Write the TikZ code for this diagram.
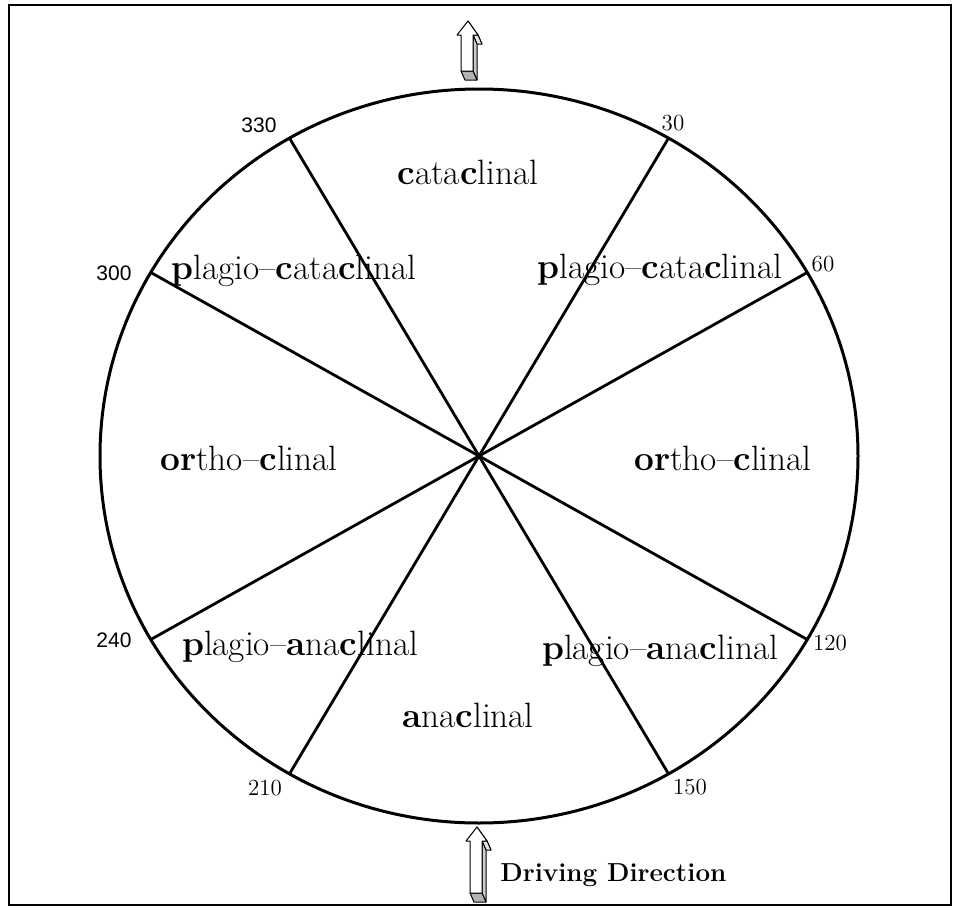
\documentclass[tikz,border=0pt]{standalone}
\usepackage{fontspec}
\newfontfamily\numsans{Liberation Sans}
\newcommand{\dirarrow}[3]{%
  \begin{scope}[shift={(#1,#2)}, line width=0.5pt, line join=round]
    \filldraw[fill=white] (0,0) -- (10,14) -- (14,23) -- (4,9) -- cycle;
    \filldraw[fill=gray!20] (5,14) -- (10,14) -- (14,23) -- (9,23) -- cycle;
    \filldraw[fill=gray!40] (5,14) -- (5,#3) -- (9,#3+9) -- (9,23) -- cycle;
    \filldraw[fill=gray!60] (-7,#3) -- (5,#3) -- (9,#3+9) -- (-3,#3+9) -- cycle;
    \filldraw[fill=white] (0,0) -- (-11,14) -- (-7,14) -- (-7,#3) -- (5,#3) -- (5,14) -- (10,14) -- cycle;
  \end{scope}}
\begin{document}
\begin{tikzpicture}[x=0.5pt, y=-0.5pt,
  rim/.style={line width=1.5pt},
  spoke/.style={line width=1.4pt},
  frameline/.style={line width=1.2pt},
  zone/.style={font=\fontsize{17.6}{20}\selectfont, inner sep=0pt, anchor=base},
  deg/.style={font=\fontsize{11.5}{13}\selectfont, inner sep=0pt},
  degsans/.style={font=\numsans\fontsize{10.5}{12}\selectfont, inner sep=0pt}]
\useasboundingbox (0,0) rectangle (954,910);
\draw[frameline] (9,5) rectangle (951,905);

\coordinate (O) at (479,456);
\foreach \a in {30,60,120,150,210,240,300,330}{
  \coordinate (p\a) at ({479+379*sin(\a)},{456-367*cos(\a)});
}
\draw[rim] (O) ellipse [x radius=379, y radius=367];
\draw[spoke] (p330) -- (p150);
\draw[spoke] (p30) -- (p210);
\draw[spoke] (p60) -- (p240);
\draw[spoke] (p300) -- (p120);

\node[zone] (cata) at (468,184) {\textbf{c}ata\textbf{c}linal};
\node[zone] (pcl) at (294,279) {\textbf{p}lagio--\textbf{c}ata\textbf{c}linal};
\node[zone] (pcr) at (660,278) {\textbf{p}lagio--\textbf{c}ata\textbf{c}linal};
\node[zone] (ol) at (249,470) {\textbf{or}tho--\textbf{c}linal};
\node[zone] (or) at (723,470) {\textbf{or}tho--\textbf{c}linal};
\node[zone] (pal) at (300,655) {\textbf{p}lagio--\textbf{a}na\textbf{c}linal};
\node[zone] (par) at (660,659) {\textbf{p}lagio--\textbf{a}na\textbf{c}linal};
\node[zone] (ana) at (468,727) {\textbf{a}na\textbf{c}linal};

\node[degsans] (d330) at (259,125) {330};
\node[deg] (d30) at (673,123) {30};
\node[deg] (d60) at (823,264) {60};
\node[degsans] (d300) at (114,273) {300};
\node[degsans] (d240) at (114,640) {240};
\node[deg] (d120) at (830,643) {120};
\node[deg] (d210) at (265,788) {210};
\node[deg] (d150) at (690,787) {150};

\dirarrow{468}{21}{50}
\dirarrow{477}{827}{66}
\node[anchor=base west, inner sep=0pt, font=\fontsize{13}{15}\selectfont\bfseries] (drive) at (500,881) {Driving Direction};
\end{tikzpicture}
\end{document}
